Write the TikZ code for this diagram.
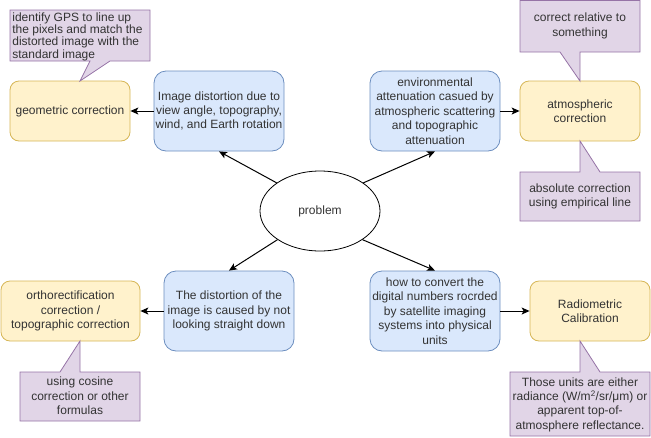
\documentclass[tikz,border=0pt]{standalone}
\usepackage{fontspec}
\setmainfont{Liberation Sans}
\usetikzlibrary{arrows.meta,shapes.geometric}
\definecolor{bluefill}{HTML}{DAE8FC}
\definecolor{bluedraw}{HTML}{6C8EBF}
\definecolor{yelfill}{HTML}{FFF2CC}
\definecolor{yeldraw}{HTML}{D6B656}
\definecolor{purfill}{HTML}{E1D5E7}
\definecolor{purdraw}{HTML}{9673A6}
\definecolor{txt}{HTML}{333333}
\tikzset{
  base/.style={font=\fontsize{12}{14.4}\selectfont, text=txt, align=center, inner sep=0pt, line width=0.8pt},
  bluebox/.style={base, draw=bluedraw, fill=bluefill, rounded corners=12pt, minimum width=130pt, minimum height=80pt},
  yelbox/.style={base, draw=yeldraw, fill=yelfill, rounded corners=9pt, minimum width=120pt, minimum height=60pt},
  callout/.style={draw=purdraw, fill=purfill, line width=0.8pt},
  ctext/.style={base},
  conn/.style={line width=1pt, -{Stealth[length=8pt,width=7pt,inset=2pt]}},
}
\begin{document}
\begin{tikzpicture}[x=1pt,y=-1pt]
\useasboundingbox (0,0) rectangle (651,437);

% main nodes
\node[bluebox] (b1) at (219,111) {Image distortion due to\\view angle, topography,\\wind, and Earth rotation};
\node[bluebox] (b2) at (435,111) {environmental\\attenuation casued by\\atmospheric scattering\\and topographic\\attenuation};
\node[bluebox] (b3) at (229,311) {The distortion of the\\image is caused by not\\looking straight down};
\node[bluebox] (b4) at (435,311) {how to convert the\\digital numbers rocrded\\by satellite imaging\\systems into physical\\units};

\node[yelbox] (geo) at (70,111) {geometric correction};
\node[yelbox] (atm) at (580,111) {atmospheric\\correction};
\node[yelbox, minimum width=139pt] (ortho) at (70.5,311) {orthorectification\\correction /\\topographic correction};
\node[yelbox] (radio) at (590,311) {Radiometric\\Calibration};

\node[base, draw=black, fill=white, ellipse, minimum width=120pt, minimum height=80pt] (prob) at (320,211) {problem};

% callouts
\draw[callout] (10,10) -- (150,10) -- (150,61) -- (110,61) -- (80,81) -- (90,61) -- (10,61) -- cycle;
\node[ctext, anchor=west, align=left, font=\fontsize{12}{12.3}\selectfont] (c1) at (12,36.5) {identify GPS to line up\\the pixels and match the\\distorted image with the\\standard image};

\draw[callout] (520,0.5) -- (640,0.5) -- (640,52) -- (580,52) -- (580,81) -- (560,52) -- (520,52) -- cycle;
\node[ctext] (c2) at (580,26) {correct relative to\\something};

\draw[callout] (520,172) -- (580,172) -- (580,141) -- (600,172) -- (640,172) -- (640,221) -- (520,221) -- cycle;
\node[ctext] (c3) at (580,196.5) {absolute correction\\using empirical line};

\draw[callout] (20,372) -- (60,372) -- (80,341) -- (80,372) -- (140,372) -- (140,421) -- (20,421) -- cycle;
\node[ctext] (c4) at (80,396) {using cosine\\correction or other\\formulas};

\draw[callout] (510,372) -- (580,372) -- (580,341) -- (600,372) -- (650,372) -- (650,436) -- (510,436) -- cycle;
\node[ctext] (c5) at (580,404.5) {Those units are either\\radiance (W/m\textsuperscript{2}/sr/μm) or\\apparent top-of-\\atmosphere reflectance.};

% connectors
\draw[conn] (prob.147) -- (b1.south);
\draw[conn] (prob.33) -- (b2.south);
\draw[conn] (prob.214) -- (b3.north);
\draw[conn] (prob.326) -- (b4.north);
\draw[conn] (b1.west) -- (geo.east);
\draw[conn] (b2.east) -- (atm.west);
\draw[conn] (b3.west) -- (ortho.east);
\draw[conn] (b4.east) -- (radio.west);
\end{tikzpicture}
\end{document}
